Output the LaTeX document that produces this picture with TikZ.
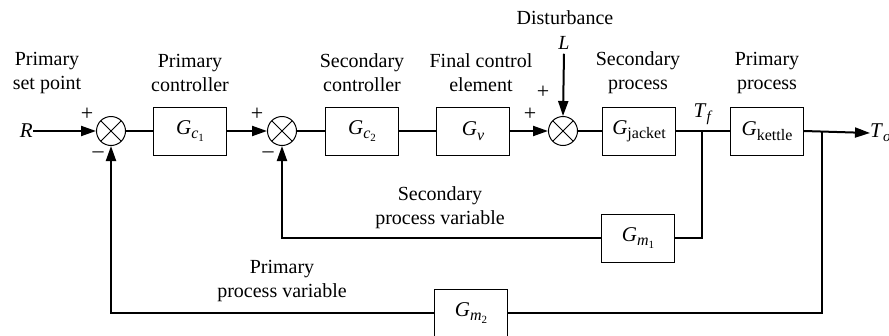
\documentclass[tikz,border=0pt]{standalone}
\usepackage{fontspec}
\setmainfont{Liberation Serif}
\usetikzlibrary{arrows.meta}
\newcommand{\Gs}[1]{\textit{G}\raisebox{-0.45ex}{\fontsize{16}{16}\selectfont #1}}
\newcommand{\subone}[2]{\textit{#1}\raisebox{-0.4ex}{\fontsize{11}{11}\selectfont #2}}
\begin{document}
\begin{tikzpicture}[x=1pt,y=-1pt,
  lbl/.style={align=center,font=\fontsize{20}{24}\selectfont,inner sep=0pt},
  blk/.style={draw,line width=1pt,minimum width=73pt,minimum height=48pt,inner sep=0pt,font=\fontsize{21}{21}\selectfont},
  sumnode/.style={draw,circle,line width=1pt,minimum size=29pt,inner sep=0pt,
    path picture={\draw[line width=1pt] (path picture bounding box.north west) -- (path picture bounding box.south east)
      (path picture bounding box.north east) -- (path picture bounding box.south west);}},
  sig/.style={line width=2pt},
  arr/.style={sig,-{Triangle[length=15pt,width=10pt]}},
  sgn/.style={font=\fontsize{22}{22}\selectfont,inner sep=0pt}
]
\useasboundingbox (0,0) rectangle (889,335);
% labels
\node[lbl] (lsp) at (47,73) {Primary\\set point};
\node[lbl] (lpc) at (190,73) {Primary\\controller};
\node[lbl] (lsc) at (362,73) {Secondary\\controller};
\node[lbl] (lfc) at (481,73) {Final control\\element};
\node[lbl] (lsq) at (638,73) {Secondary\\process};
\node[lbl] (lpp) at (767,73) {Primary\\process};
\node[lbl] (ldist) at (565,18) {Disturbance};
\node[lbl] (L) at (564,43) {\textit{L}};
\node[lbl] (lspv) at (440,208) {Secondary\\process variable};
\node[lbl] (lppv) at (282,281) {Primary\\process variable};
% signals
\node[lbl,font=\fontsize{21}{21}\selectfont,anchor=east] (R) at (33,131) {\textit{R}};
\node[sumnode] (s1) at (111,131) {};
\node[sumnode] (s2) at (282,131) {};
\node[sumnode] (s3) at (563,131) {};
\node[blk] (gc1) at (190,131) {\Gs{\subone{c}{1}}};
\node[blk] (gc2) at (362,131) {\Gs{\subone{c}{2}}};
\node[blk] (gv) at (473,131) {\Gs{\textit{v}}};
\node[blk] (gj) at (639,131) {\Gs{jacket}};
\node[blk] (gk) at (767,131) {\Gs{kettle}};
\node[blk] (gm1) at (638,238) {\Gs{\subone{m}{1}}};
\node[blk] (gm2) at (471,313) {\Gs{\subone{m}{2}}};
\node[lbl,font=\fontsize{21}{21}\selectfont,anchor=west] (To) at (870,133) {\textit{T}\raisebox{-0.45ex}{\fontsize{15}{15}\selectfont\textit{o}}};
\node[lbl,font=\fontsize{21}{21}\selectfont] (Tf) at (703,114) {\textit{T}\raisebox{-0.45ex}{\fontsize{15}{15}\selectfont\textit{f}}};
\coordinate (bf) at (702,131);
\coordinate (bo) at (822,131);
% signs
\node[sgn] (p1) at (87,114) {+};
\node[sgn] (m1) at (98,155) {\textendash};
\node[sgn] (p2) at (257,114) {+};
\node[sgn] (m2) at (268,155) {\textendash};
\node[sgn] (p3) at (543,92) {+};
\node[sgn] (p4) at (530,114) {+};
% connectors
\draw[arr] (R.east) -- (s1.west);
\draw[sig] (s1.east) -- (gc1.west);
\draw[arr] (gc1.east) -- (s2.west);
\draw[sig] (s2.east) -- (gc2.west);
\draw[sig] (gc2.east) -- (gv.west);
\draw[arr] (gv.east) -- (s3.west);
\draw[arr] ([yshift=-4pt]L.south) -- (s3.north);
\draw[sig] (s3.east) -- (gj.west);
\draw[sig] (gj.east) -- (gk.west);
\draw[arr] (gk.east) -- (To.west);
\draw[sig] (bf) |- (gm1.east);
\draw[arr] (gm1.west) -| (s2.south);
\draw[sig] (bo) |- (gm2.east);
\draw[arr] (gm2.west) -| (s1.south);
\end{tikzpicture}
\end{document}
